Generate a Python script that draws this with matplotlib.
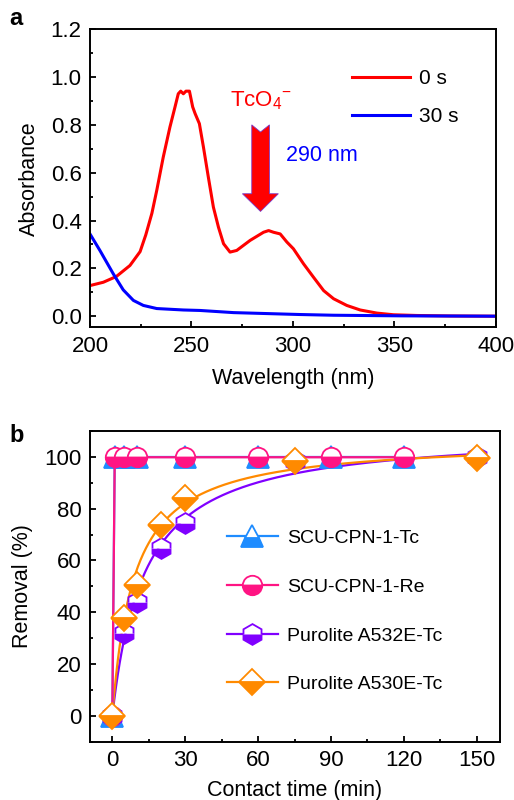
import numpy as np
import matplotlib.pyplot as plt
from matplotlib.patches import Polygon
from matplotlib.ticker import MultipleLocator

plt.rcParams['font.family'] = ['Liberation Sans', 'DejaVu Sans']
plt.rcParams['mathtext.fontset'] = 'custom'
plt.rcParams['mathtext.rm'] = 'Liberation Sans'
plt.rcParams['mathtext.it'] = 'Liberation Sans:italic'

# ---- panel a: UV-vis spectra ----
wl_0s = [200, 206.6, 213, 219.7, 224.7, 227.5, 230.5, 232.9, 236.1, 239.4, 241.9,
         243.5, 244.7, 246, 247.3, 249, 250.6, 251.8, 253.9, 255.9, 258.3, 260.8,
         263.3, 265.8, 269, 272.3, 278.9, 285.5, 288, 290.4, 293.7, 297, 300.2,
         305.2, 310.1, 315.1, 320, 326.5, 333.1, 341.3, 349.5, 361, 377.5, 400]
abs_0s = [0.128, 0.142, 0.166, 0.212, 0.27, 0.34, 0.43, 0.526, 0.665, 0.791, 0.875,
          0.93, 0.941, 0.93, 0.941, 0.941, 0.875, 0.847, 0.805, 0.707, 0.582, 0.456,
          0.372, 0.303, 0.268, 0.275, 0.317, 0.351, 0.358, 0.351, 0.344, 0.310,
          0.282, 0.219, 0.163, 0.107, 0.073, 0.045, 0.026, 0.013, 0.006, 0.003,
          0.001, 0.0]
wl_30s = [200, 204.9, 211.5, 216.4, 221.4, 226.3, 232.9, 246, 254.2, 270.7, 287.1,
          303.5, 320, 352.8, 400]
abs_30s = [0.344, 0.275, 0.177, 0.110, 0.066, 0.045, 0.032, 0.026, 0.024, 0.015,
           0.011, 0.007, 0.004, 0.0015, 0.0]

# ---- panel b: removal kinetics ----
t_scu = [0, 1, 5, 10, 30, 60, 90, 120]
scu_tc = [0, 99.9, 99.9, 99.9, 99.9, 99.9, 99.9, 99.9]
scu_re = [0, 99.8, 99.8, 99.8, 99.8, 99.8, 99.8, 99.8]
t_pur = [0, 5, 10, 20, 30, 75, 150]
a532e = [0, 32.2, 43.8, 64.7, 74.3, 98.5, 100]
a530e = [0, 38, 50.6, 73.7, 84.0, 98.2, 99.7]

fig = plt.figure(figsize=(5.14, 8.0), dpi=100)

ax1 = fig.add_axes([0.175, 0.591, 0.790, 0.3725])
ax1.plot(wl_0s, abs_0s, color='#ff0000', lw=2.2, label='0 s')
ax1.plot(wl_30s, abs_30s, color='#0000ff', lw=2.2, label='30 s')
ax1.set_xlim(200, 400)
ax1.set_ylim(-0.046, 1.2)
ax1.xaxis.set_major_locator(MultipleLocator(50))
ax1.xaxis.set_minor_locator(MultipleLocator(25))
ax1.yaxis.set_minor_locator(MultipleLocator(0.1))
ax1.set_yticks(np.arange(0, 1.21, 0.2))
ax1.set_yticklabels(['%.1f' % v for v in np.arange(0, 1.21, 0.2)])
ax1.set_xlabel('Wavelength (nm)', fontsize=15.5, labelpad=8)
ax1.set_ylabel('Absorbance', fontsize=15.5, labelpad=8)
ax1.legend(loc='upper left', bbox_to_anchor=(0.645, 0.867), frameon=False,
           fontsize=15, handlelength=2.8, handletextpad=0.4, labelspacing=0.92,
           borderpad=0, borderaxespad=0)

# arrow for TcO4- band
arrow = Polygon([(279.7, 0.80), (284.0, 0.77), (288.4, 0.80), (288.4, 0.512),
                 (292.8, 0.512), (284.0, 0.438), (275.1, 0.512), (279.7, 0.512)],
                closed=True, facecolor='#ff0000', edgecolor='#7a3cc8', lw=0.6)
ax1.add_patch(arrow)
ax1.text(284.3, 0.90, r'TcO$_4$$^{-}$', color='#ff0000', fontsize=16,
         ha='center', va='center')
ax1.text(296.6, 0.672, '290 nm', color='#0000ff', fontsize=15.5,
         ha='left', va='center')
fig.text(0.018, 0.977, 'a', fontsize=17, fontweight='bold', va='center')

ax2 = fig.add_axes([0.175, 0.0725, 0.798, 0.389])

# pseudo-second-order fit (t/q = a + b t) for the resin data
tt = np.linspace(0, 150, 400)
fits = {}
for name, y in (('a532e', a532e), ('a530e', a530e)):
    t = np.array(t_pur[1:], float)
    q = np.array(y[1:], float)
    b, a = np.polyfit(t, t / q, 1)
    fits[name] = tt / (a + b * tt)

c_tc = '#1e8cff'
c_re = '#ff1483'
c_532 = '#8000ff'
c_530 = '#ff8a00'
mk = dict(fillstyle='bottom', markerfacecoloralt='white', markeredgewidth=1.3)

ax2.plot(t_scu, scu_tc, color=c_tc, lw=1.6, marker='^', ms=16, mfc=c_tc, mec=c_tc,
         label='SCU-CPN-1-Tc', zorder=3, **mk)
ax2.plot(t_scu, scu_re, color=c_re, lw=1.6, marker='o', ms=14, mfc=c_re, mec=c_re,
         label='SCU-CPN-1-Re', zorder=4, **mk)
ax2.plot(tt, fits['a532e'], color=c_532, lw=1.6, zorder=2)
ax2.plot(t_pur, a532e, ls='none', marker='h', ms=15, mfc=c_532, mec=c_532,
         zorder=5, **mk)
ax2.plot(tt, fits['a530e'], color=c_530, lw=1.6, zorder=2)
ax2.plot(t_pur, a530e, ls='none', marker='D', ms=13, mfc=c_530, mec=c_530,
         zorder=6, **mk)

# legend proxies for resin curves
ax2.plot([], [], color=c_532, lw=1.6, marker='h', ms=15, mfc=c_532, mec=c_532,
         label='Purolite A532E-Tc', **mk)
ax2.plot([], [], color=c_530, lw=1.6, marker='D', ms=13, mfc=c_530, mec=c_530,
         label='Purolite A530E-Tc', **mk)

ax2.set_xlim(-9.2, 159.6)
ax2.set_ylim(-10, 110)
ax2.xaxis.set_major_locator(MultipleLocator(30))
ax2.xaxis.set_minor_locator(MultipleLocator(15))
ax2.yaxis.set_minor_locator(MultipleLocator(10))
ax2.set_yticks(np.arange(0, 101, 20))
ax2.set_xlabel('Contact time (min)', fontsize=15.5, labelpad=6)
ax2.set_ylabel('Removal (%)', fontsize=15.5, labelpad=8)
ax2.legend(loc='upper left', bbox_to_anchor=(0.334, 0.683), frameon=False,
           fontsize=14, handlelength=2.6, handletextpad=0.5, labelspacing=1.6,
           borderpad=0, borderaxespad=0)
fig.text(0.018, 0.456, 'b', fontsize=17, fontweight='bold', va='center')

for ax in (ax1, ax2):
    for s in ax.spines.values():
        s.set_linewidth(1.4)
    ax.tick_params(which='both', direction='in', top=False, right=False,
                   width=1.3, labelsize=16, pad=6)
    ax.tick_params(which='major', length=4.5)
    ax.tick_params(which='minor', length=2.5)

fig.savefig('out.png', dpi=100)
